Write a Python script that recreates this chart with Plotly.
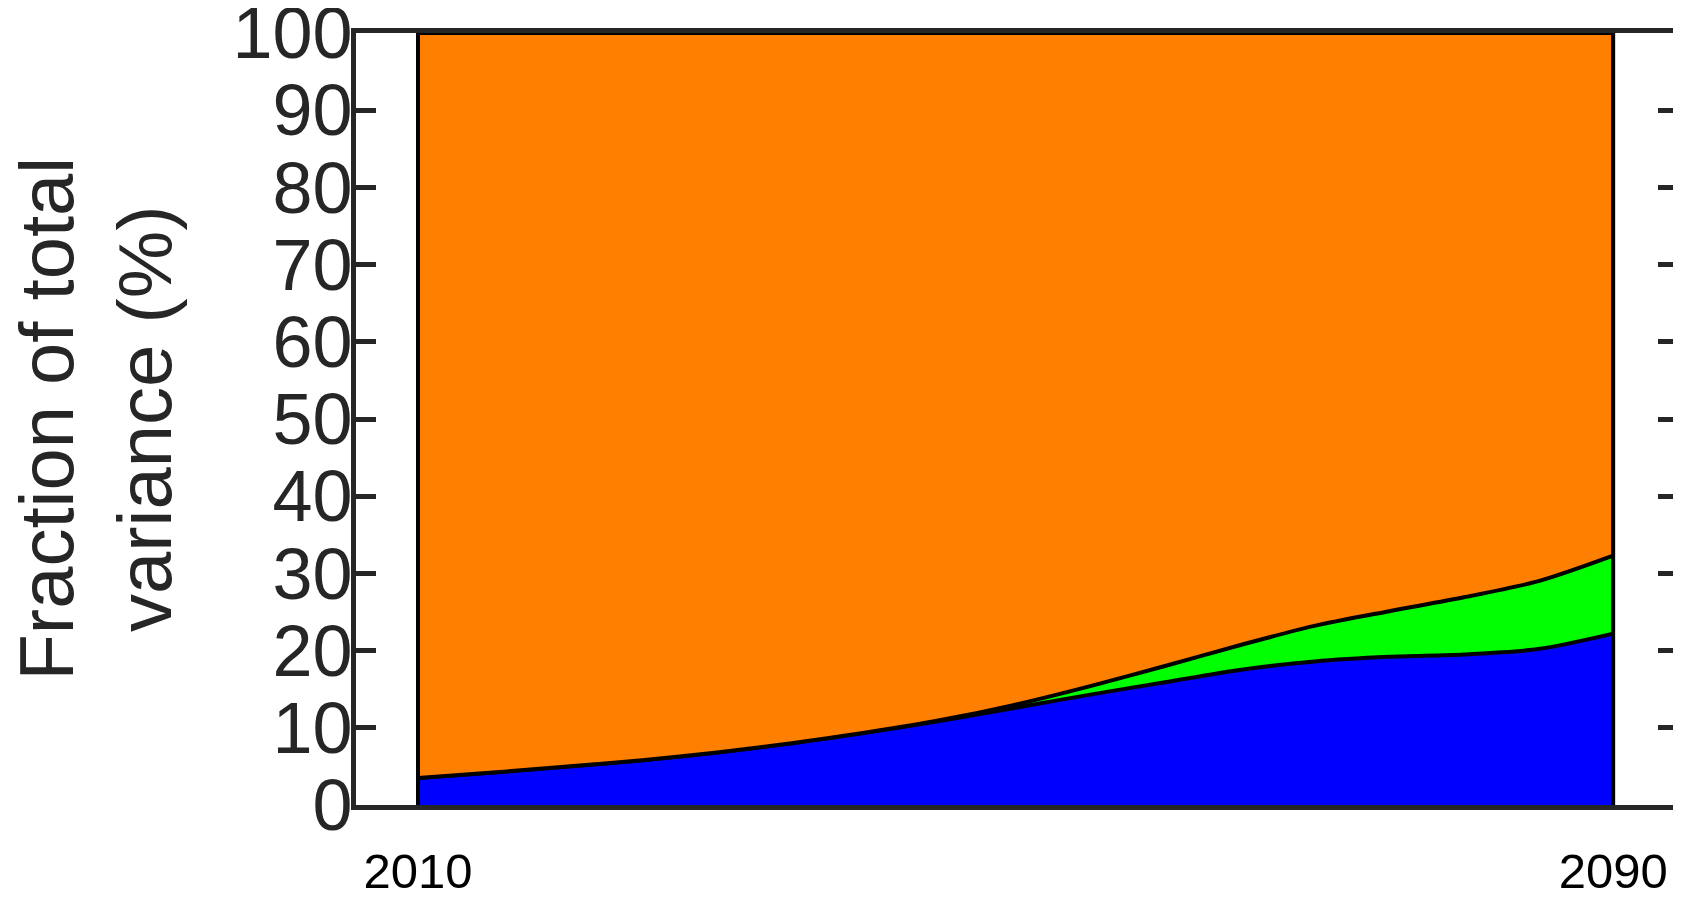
import plotly.graph_objects as go

# share of total variance (%), one value every 5 years
years = [2010, 2015, 2020, 2025, 2030, 2035, 2040, 2045, 2050,
         2055, 2060, 2065, 2070, 2075, 2080, 2085, 2090]
blue_share = [3.5, 4.2, 5.0, 5.8, 6.8, 8.0, 9.4, 10.9, 12.6,
              14.3, 15.9, 17.5, 18.6, 19.2, 19.5, 20.2, 22.2]
green_share = [0.0, 0.0, 0.0, 0.0, 0.0, 0.0, 0.0, 0.1, 0.4,
               1.1, 2.1, 3.2, 4.6, 5.9, 7.4, 8.8, 10.1]
orange_share = [100 - b - g for b, g in zip(blue_share, green_share)]

y_ticks = [0, 10, 20, 30, 40, 50, 60, 70, 80, 90, 100]
x_ticks = [2010, 2090]

frame = "#262626"
font = "Liberation Sans, Arial, Helvetica, sans-serif"

fig = go.Figure()
for name, vals, colour in [
    ("blue", blue_share, "rgb(0,0,255)"),
    ("green", green_share, "rgb(0,255,0)"),
    ("orange", orange_share, "rgb(255,128,0)"),
]:
    fig.add_trace(go.Scatter(
        x=years, y=vals, name=name,
        stackgroup="var", mode="lines",
        line=dict(color="black", width=4, shape="spline", smoothing=0.8),
        fillcolor=colour,
        hoverinfo="skip",
    ))

# vertical black edges of the stacked area
for yr in (years[0], years[-1]):
    fig.add_shape(type="line", xref="x", yref="y",
                  x0=yr, x1=yr, y0=0, y1=100,
                  line=dict(color="black", width=4))

fig.add_annotation(
    text="Fraction of total<br>variance (%)",
    xref="paper", yref="paper", x=-0.197, y=0.5,
    xanchor="center", yanchor="middle",
    textangle=-90, showarrow=False,
    font=dict(family=font, size=76, color=frame),
)

# the page body adds an 8px offset, so the figure is kept 8px smaller than the window
fig.update_layout(
    width=1673, height=892,
    margin=dict(l=348, r=3, t=25, b=95),
    paper_bgcolor="white", plot_bgcolor="white",
    showlegend=False,
    xaxis=dict(
        range=[2005.85, 2094.34],
        tickvals=x_ticks, ticktext=[str(v) for v in x_ticks],
        ticks="", showgrid=False, zeroline=False,
        showline=True, linecolor=frame, linewidth=5, mirror=True,
        tickfont=dict(family=font, size=49, color="black"),
        ticklabelstandoff=19,
        ticklabeloverflow="allow",
        automargin=False,
    ),
    yaxis=dict(
        range=[0, 100], tickvals=y_ticks,
        ticks="inside", ticklen=20, tickwidth=5, tickcolor=frame,
        showgrid=False, zeroline=False,
        showline=True, linecolor=frame, linewidth=5, mirror="ticks",
        tickfont=dict(family=font, size=72, color=frame),
        ticklabelstandoff=-16,
        ticklabeloverflow="allow",
        automargin=False,
    ),
)

fig.write_html("out.html")
